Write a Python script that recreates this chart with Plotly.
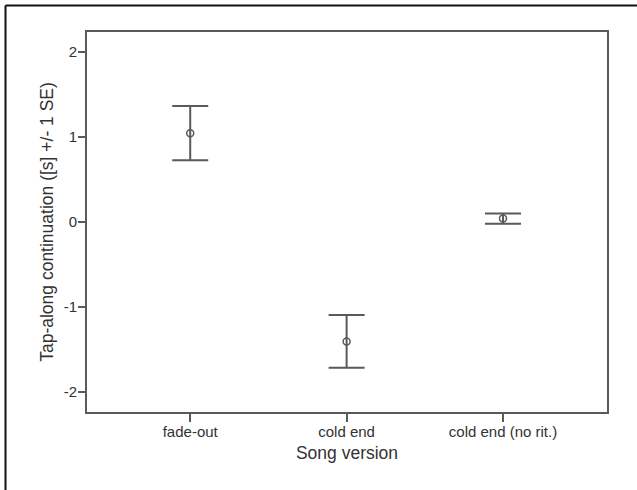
import plotly.graph_objects as go

categories = ["fade-out", "cold end", "cold end (no rit.)"]
means = [1.045, -1.405, 0.04]
se_upper = [0.32, 0.31, 0.06]
se_lower = [0.32, 0.31, 0.06]
y_ticks = [-2, -1, 0, 1, 2]
y_tick_labels = ["-2", "-1", "0", "1", "2"]

line_col = "#5a5a5a"
text_col = "#333333"

fig = go.Figure()
fig.add_trace(go.Scatter(
    x=list(range(len(categories))),
    y=means,
    mode="markers",
    marker=dict(symbol="circle-open", size=7, color=line_col, line=dict(width=1.5, color=line_col)),
    error_y=dict(type="data", symmetric=False, array=se_upper, arrayminus=se_lower,
                 color=line_col, thickness=2, width=18),
    showlegend=False,
))

L, R, T, B = 87, 30, 32, 78
W, H = 637, 490
pw, ph = W - L - R, H - T - B
bx = 5.5
by = 5.5

fig.update_layout(
    width=W, height=H,
    margin=dict(l=L, r=R, t=T, b=B),
    paper_bgcolor="white", plot_bgcolor="white",
    font=dict(family="Liberation Sans, Arial, sans-serif", color=text_col),
    xaxis=dict(
        range=[-0.66, 2.665],
        tickmode="array", tickvals=list(range(len(categories))), ticktext=categories,
        showgrid=False, zeroline=False,
        showline=True, mirror=True, linecolor=line_col, linewidth=2,
        ticks="outside", ticklen=8, tickwidth=2, tickcolor=line_col,
        ticklabelstandoff=-3,
        tickfont=dict(size=15, color=text_col),
        title=dict(text="Song version", font=dict(size=17.5, color=text_col), standoff=8),
    ),
    yaxis=dict(
        range=[-2.235, 2.235],
        tickmode="array", tickvals=y_ticks, ticktext=y_tick_labels,
        showgrid=False, zeroline=False,
        showline=True, mirror=True, linecolor=line_col, linewidth=2,
        ticks="outside", ticklen=7, tickwidth=2, tickcolor=line_col,
        ticklabelstandoff=-2,
        tickfont=dict(size=15, color=text_col),
        title=dict(text="Tap-along continuation ([s] +/- 1 SE)", font=dict(size=17.5, color=text_col), standoff=6),
    ),
    shapes=[
        dict(type="line", xref="paper", yref="paper",
             x0=-(L - bx) / pw, x1=(W - L) / pw + 0.01,
             y0=(H - B - by) / ph, y1=(H - B - by) / ph,
             line=dict(color="#111111", width=2)),
        dict(type="line", xref="paper", yref="paper",
             x0=-(L - bx) / pw, x1=-(L - bx) / pw,
             y0=-B / ph - 0.01, y1=(H - B - by) / ph,
             line=dict(color="#111111", width=2)),
    ],
)

fig.write_html("out.html", config={"displayModeBar": False},
               post_script="document.body.style.margin='0px';document.body.style.overflow='hidden';")
